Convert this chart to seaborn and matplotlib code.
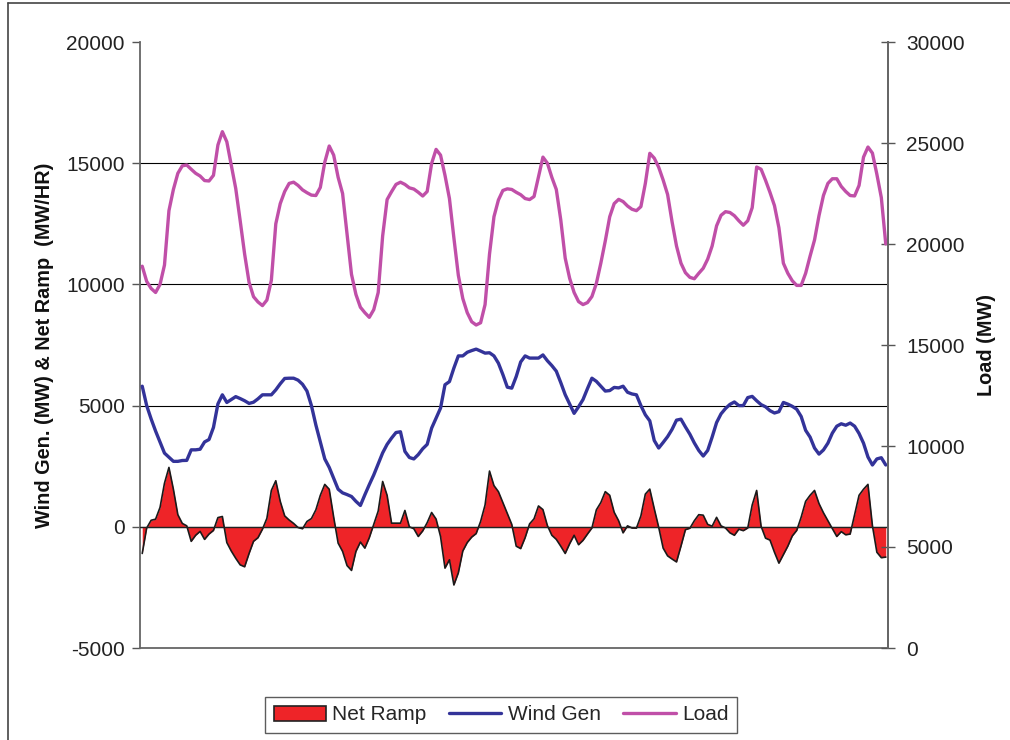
import numpy as np
import pandas as pd
import matplotlib
matplotlib.use("Agg")
import matplotlib.pyplot as plt
import seaborn as sns
from matplotlib.patches import Patch
from matplotlib.lines import Line2D

# ---- data (hourly, 168 hours) ----
load_mw = [
    18900, 18150, 17800, 17600, 18000, 18960, 21650, 22700, 23500, 23870,
    23910, 23700, 23500, 23365, 23140, 23120, 23400, 24900, 25560, 25060,
    23900, 22750, 21150, 19500, 18100, 17390, 17130, 16950, 17225, 18200,
    21000, 22000, 22600, 23000, 23060, 22900, 22680, 22540, 22420, 22400,
    22800, 24050, 24850, 24400, 23300, 22500, 20500, 18500, 17500, 16870,
    16600, 16370, 16750, 17600, 20400, 22200, 22590, 22950, 23060, 22950,
    22780, 22720, 22560, 22375, 22600, 23990, 24685, 24400, 23400, 22250,
    20300, 18450, 17300, 16600, 16150, 15990, 16100, 17000, 19500, 21350,
    22180, 22650, 22730, 22700, 22560, 22440, 22250, 22200, 22350, 23330,
    24300, 24000, 23300, 22700, 21200, 19300, 18300, 17600, 17150, 17000,
    17100, 17400, 18050, 19050, 20150, 21350, 22000, 22210, 22100, 21880,
    21720, 21650, 21850, 23000, 24490, 24250, 23800, 23165, 22450, 21100,
    19900, 19050, 18580, 18350, 18280, 18550, 18800, 19250, 19900, 20900,
    21420, 21600, 21560, 21400, 21150, 20930, 21150, 21800, 23810, 23700,
    23150, 22550, 21900, 20800, 19050, 18550, 18180, 17950, 17950, 18550,
    19400, 20200, 21400, 22400, 23000, 23230, 23230, 22850, 22600, 22400,
    22380, 22900, 24300, 24800, 24500, 23450, 22300, 20000,
]

wind_gen = [
    5800, 5000, 4450, 3950, 3500, 3040, 2870, 2700, 2700, 2735,
    2740, 3175, 3175, 3200, 3500, 3600, 4100, 5070, 5445, 5130,
    5250, 5370, 5290, 5200, 5090, 5140, 5280, 5445, 5445, 5445,
    5650, 5900, 6120, 6130, 6130, 6050, 5880, 5600, 5000, 4200,
    3500, 2800, 2450, 2000, 1550, 1400, 1330, 1250, 1050, 880,
    1320, 1740, 2140, 2600, 3050, 3400, 3660, 3890, 3920, 3110,
    2860, 2800, 2980, 3220, 3400, 4070, 4480, 4895, 5860, 5990,
    6550, 7050, 7050, 7200, 7270, 7330, 7250, 7165, 7180, 7050,
    6750, 6280, 5760, 5720, 6200, 6800, 7050, 6960, 6960, 6960,
    7090, 6850, 6650, 6420, 5950, 5450, 5070, 4680, 4950, 5250,
    5700, 6130, 6000, 5800, 5600, 5620, 5750, 5730, 5800, 5550,
    5480, 5445, 5000, 4620, 4370, 3560, 3250, 3480, 3720, 4020,
    4400, 4440, 4120, 3820, 3460, 3150, 2920, 3150, 3700, 4300,
    4660, 4880, 5050, 5150, 5000, 5000, 5330, 5380, 5200, 5040,
    4950, 4790, 4695, 4750, 5130, 5060, 4970, 4850, 4550, 3980,
    3700, 3250, 3000, 3170, 3450, 3865, 4150, 4250, 4190, 4280,
    4150, 3850, 3450, 2880, 2550, 2800, 2850, 2550,
]

net_ramp = [
    -1100, -50, 270, 315, 800, 1800, 2450, 1550, 500, 140,
    40, -600, -350, -190, -520, -300, -150, 380, 425, -650,
    -1000, -1300, -1570, -1650, -1100, -600, -450, -100, 350, 1500,
    1900, 1050, 450, 280, 140, -30, -80, 220, 340, 700,
    1300, 1750, 1550, 400, -675, -1015, -1600, -1800, -1015, -630,
    -880, -450, 100, 650, 1870, 1300, 150, 150, 150, 675,
    0, -80, -400, -170, 170, 590, 320, -400, -1705, -1360,
    -2400, -1900, -1000, -650, -425, -280, 220, 900, 2300, 1700,
    1450, 1000, 550, 100, -800, -900, -450, 120, 330, 860,
    710, 50, -350, -520, -800, -1100, -700, -350, -740, -560,
    -300, -50, 700, 1000, 1450, 1300, 600, 250, -250, 40,
    -50, -55, 450, 1350, 1555, 750, -20, -880, -1200, -1330,
    -1450, -800, -120, -60, 250, 500, 480, 100, 25, 390,
    40, -50, -250, -350, -100, -160, -50, 900, 1500, 20,
    -470, -550, -1050, -1500, -1150, -800, -380, -150, 400, 1050,
    1300, 1500, 960, 580, 250, -75, -400, -200, -330, -300,
    500, 1300, 1550, 1750, 50, -1050, -1275, -1250,
]

left_ticks = [-5000, 0, 5000, 10000, 15000, 20000]
right_ticks = [0, 5000, 10000, 15000, 20000, 25000, 30000]

series_names = ["Net Ramp", "Wind Gen", "Load"]
c_ramp = "#EE2428"
c_wind = "#333399"
c_load = "#C04FA8"

hours = np.arange(len(load_mw))
df = pd.DataFrame({"hour": hours, "load": load_mw, "wind": wind_gen, "ramp": net_ramp})

sns.set_style("white")
plt.rcParams["font.family"] = ["Liberation Sans", "DejaVu Sans"]

fig = plt.figure(figsize=(10.1, 7.4), dpi=100)
ax = fig.add_axes([140 / 1010, (740 - 648) / 740, (888 - 140) / 1010, (648 - 42) / 740])

ax.set_xlim(-0.5, len(hours) - 0.5)
ax.set_ylim(-5000, 20000)

# gridlines
for g in [0, 5000, 10000, 15000]:
    ax.axhline(g, color="black", lw=0.8, zorder=1)

# area for net ramp
ax.fill_between(df["hour"], 0, df["ramp"], color=c_ramp, zorder=2, lw=0)
ax.plot(df["hour"], df["ramp"], color="#1a1a1a", lw=1.2, zorder=3)
ax.axhline(0, color="#222222", lw=1.0, zorder=3)

sns.lineplot(data=df, x="hour", y="wind", ax=ax, color=c_wind, lw=2.4, zorder=4, legend=False)

ax.set_yticks(left_ticks)
ax.set_yticklabels([str(t) for t in left_ticks], fontsize=15, color="#222222")
ax.set_xticks([])
ax.set_xlabel("")
ax.set_ylabel("Wind Gen. (MW) & Net Ramp  (MW/HR)", fontsize=14.3, fontweight="bold",
              labelpad=9, color="#111111")
ax.tick_params(axis="y", direction="out", length=6, width=1, color="#555555", left=True, pad=5)

ax.spines["top"].set_visible(False)
for s in ["left", "bottom", "right"]:
    ax.spines[s].set_color("#666666")
    ax.spines[s].set_linewidth(1.3)

ax2 = ax.twinx()
sns.lineplot(data=df, x="hour", y="load", ax=ax2, color=c_load, lw=2.4, legend=False)
ax2.set_ylim(0, 30000)
ax2.set_xlim(-0.5, len(hours) - 0.5)
ax2.set_yticks(right_ticks)
ax2.set_yticklabels([str(t) for t in right_ticks], fontsize=15, color="#222222")
ax2.tick_params(axis="y", direction="inout", length=10, width=1, color="#555555", right=True, pad=8)
ax2.set_ylabel("Load (MW)", fontsize=14.3, fontweight="bold", labelpad=9, color="#111111")
ax2.spines["top"].set_visible(False)
ax2.spines["left"].set_visible(False)
ax2.spines["bottom"].set_visible(False)
ax2.spines["right"].set_color("#666666")
ax2.spines["right"].set_linewidth(1.3)

handles = [
    Patch(facecolor=c_ramp, edgecolor="#222222", lw=1.2),
    Line2D([], [], color=c_wind, lw=2.4),
    Line2D([], [], color=c_load, lw=2.4),
]
leg = fig.legend(handles, series_names, loc="center", bbox_to_anchor=(501 / 1010, 1 - 715 / 740),
                 ncol=3, frameon=True, fancybox=False, fontsize=15, handlelength=2.5,
                 handletextpad=0.3, columnspacing=1.1, borderpad=0.42)
leg.get_frame().set_edgecolor("#333333")
leg.get_frame().set_linewidth(1.0)

# outer frame of the original chart
fig.add_artist(Line2D([8 / 1010, 1.0], [1 - 3 / 740, 1 - 3 / 740], color="#444444", lw=1.2,
                      transform=fig.transFigure))
fig.add_artist(Line2D([8 / 1010, 8 / 1010], [0, 1 - 3 / 740], color="#444444", lw=1.2,
                      transform=fig.transFigure))

fig.savefig("out.png", dpi=100)
